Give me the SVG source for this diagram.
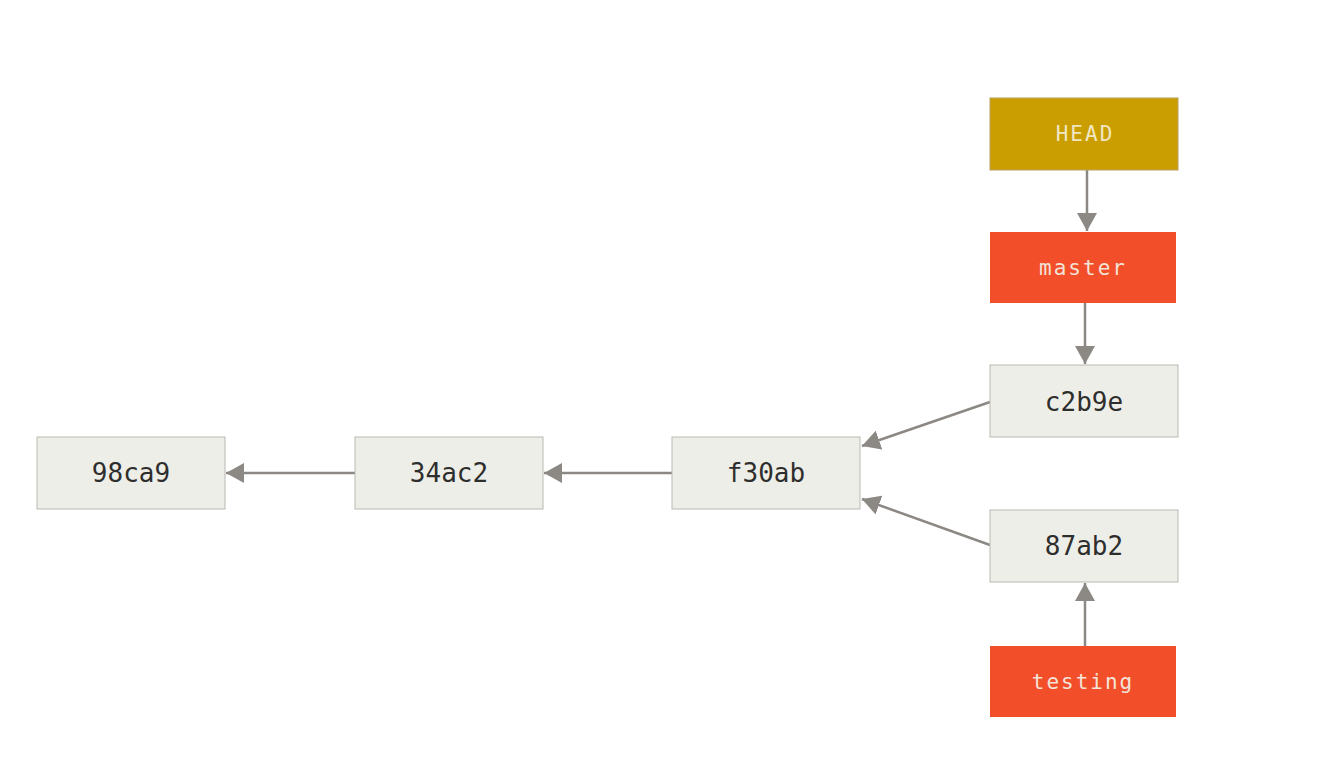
<svg xmlns="http://www.w3.org/2000/svg" width="1324" height="757" viewBox="0 0 1324 757">
<style>
.commit rect{fill:#eeeee8;stroke:#b9b9b2;stroke-width:1}
.commit text{font-family:"DejaVu Sans Mono","Liberation Mono",monospace;font-size:26px;fill:#2e2e2e;text-anchor:middle;dominant-baseline:central}
.ref text{font-family:"DejaVu Sans Mono","Liberation Mono",monospace;font-size:21px;letter-spacing:2px;fill:#f3e3d8;text-anchor:middle;dominant-baseline:central}
.head rect{fill:#ca9e00;stroke:#b8a060;stroke-width:1}
.head text{fill:#f1e6c4}
.branch rect{fill:#f24e29}
.conn line{stroke:#8c8883;stroke-width:2.5;fill:none}
</style>
<defs>
<marker id="ah" markerUnits="userSpaceOnUse" markerWidth="20" markerHeight="20" refX="18" refY="10" orient="auto">
<path d="M0,0 L18,10 L0,20 Z" fill="#8c8883"/>
</marker>
</defs>
<rect width="1324" height="757" fill="#ffffff"/>
<g id="connectors" class="conn">
<line x1="1087" y1="170" x2="1087" y2="231" marker-end="url(#ah)"/>
<line x1="1085" y1="303" x2="1085" y2="364" marker-end="url(#ah)"/>
<line x1="1085" y1="646" x2="1085" y2="583" marker-end="url(#ah)"/>
<line x1="990" y1="402" x2="862" y2="446" marker-end="url(#ah)"/>
<line x1="990" y1="545" x2="862" y2="499" marker-end="url(#ah)"/>
<line x1="672" y1="473" x2="544" y2="473" marker-end="url(#ah)"/>
<line x1="355" y1="473" x2="226" y2="473" marker-end="url(#ah)"/>
</g>
<g id="HEAD" class="ref head"><rect x="990" y="98" width="188" height="72"/><text x="1085" y="134">HEAD</text></g>
<g id="master" class="ref branch"><rect x="990" y="232" width="186" height="71"/><text x="1083" y="268">master</text></g>
<g id="testing" class="ref branch"><rect x="990" y="646" width="186" height="71"/><text x="1083" y="682">testing</text></g>
<g id="c2b9e" class="commit"><rect x="990" y="365" width="188" height="72"/><text x="1084" y="402">c2b9e</text></g>
<g id="87ab2" class="commit"><rect x="990" y="510" width="188" height="72"/><text x="1084" y="546">87ab2</text></g>
<g id="f30ab" class="commit"><rect x="672" y="437" width="188" height="72"/><text x="766" y="473">f30ab</text></g>
<g id="34ac2" class="commit"><rect x="355" y="437" width="188" height="72"/><text x="449" y="473">34ac2</text></g>
<g id="98ca9" class="commit"><rect x="37" y="437" width="188" height="72"/><text x="131" y="473">98ca9</text></g>
</svg>
